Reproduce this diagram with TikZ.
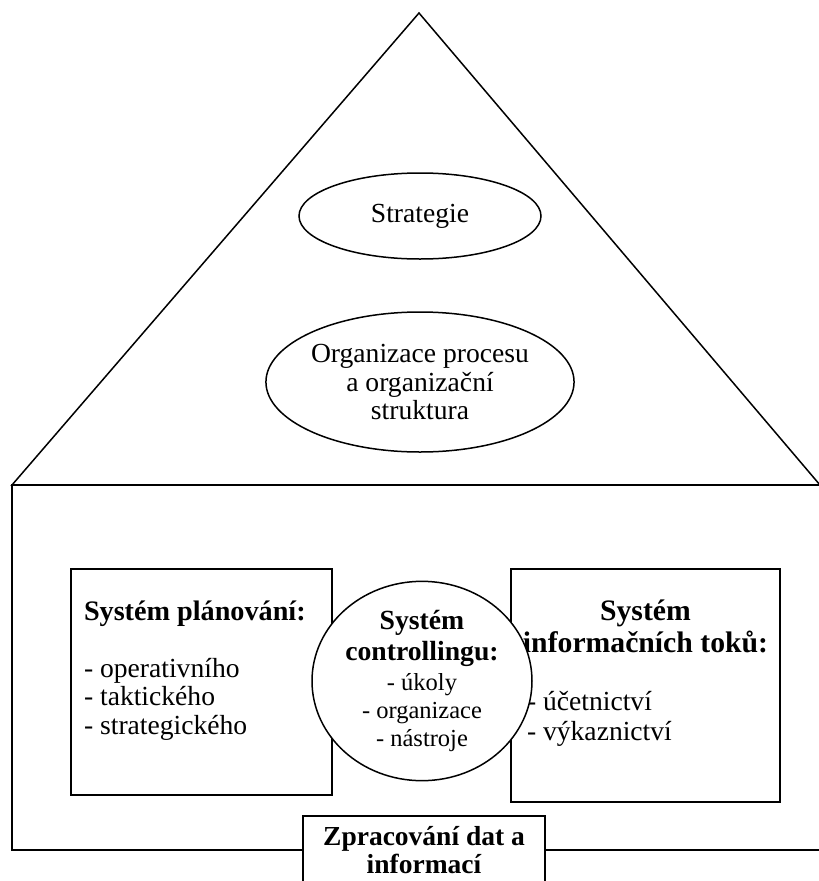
\documentclass[tikz,border=0pt]{standalone}
\usepackage{fontspec}
\setmainfont{Liberation Serif}
\usetikzlibrary{shapes.geometric}
\lineskiplimit=-100pt

\begin{document}
\begin{tikzpicture}[x=1pt, y=-1pt, line width=1.5pt,
    boxtext/.style={font=\fontsize{27.6}{28.5}\selectfont},
    boxhead/.style={font=\fontsize{29.7}{32}\selectfont\bfseries},
    boxframe/.style={draw, fill=white, inner sep=0pt},
    oval/.style={draw, ellipse, fill=white, inner sep=0pt, align=center}]
\useasboundingbox (0,0) rectangle (819,881);

% roof and body of the house
\draw (419,13) -- (12,485) -- (820,485) -- cycle;
\draw (12,485) rectangle (830,850);

% roof
\node[oval, boxtext, minimum width=242pt, minimum height=86pt] (strat) at (420,216) {Strategie};
\node[oval, boxtext, minimum width=262pt, minimum height=140pt] (org) at (420,382)
    {Organizace procesu\\a organizační\\struktura};

% planning
\node[boxframe, minimum width=261pt, minimum height=226pt] (plan) at (201.5,682) {};
\node[boxtext, anchor=base west, align=left, inner sep=0pt] (plantext) at ([xshift=13pt, yshift=-166pt]plan.north west)
    {\textbf{\fontsize{28.2}{32}\selectfont Systém plánování:}\\[28pt]
     - operativního\\- taktického\\- strategického};

% information flows
\node[boxframe, minimum width=269pt, minimum height=233pt] (tok) at (645.5,685.5) {};
\node[boxhead, anchor=base, align=center, inner sep=0pt] (toktitle) at ([yshift=-84pt]tok.north)
    {Systém\\informačních toků:};
\node[boxtext, anchor=base west, align=left, inner sep=0pt] (toklist) at ([xshift=16pt, yshift=-172pt]tok.north west)
    {- účetnictví\\[1.5pt]- výkaznictví};

% controlling
\node[oval, minimum width=220pt, minimum height=192pt, font=\fontsize{24.5}{27.5}\selectfont] (ctrl) at (422,681)
    {\textbf{\fontsize{27.7}{31}\selectfont Systém}\\[3.5pt]
     \textbf{\fontsize{27.7}{31}\selectfont controllingu:}\\[2.5pt]
     - úkoly\\[0.5pt]- organizace\\- nástroje};

% data processing
\node[boxframe, font=\fontsize{27.5}{28}\selectfont\bfseries, align=center, anchor=north,
      minimum width=242pt, minimum height=68pt] (zprac) at (424,815)
    {Zpracování dat a\\informací};
\end{tikzpicture}
\end{document}
